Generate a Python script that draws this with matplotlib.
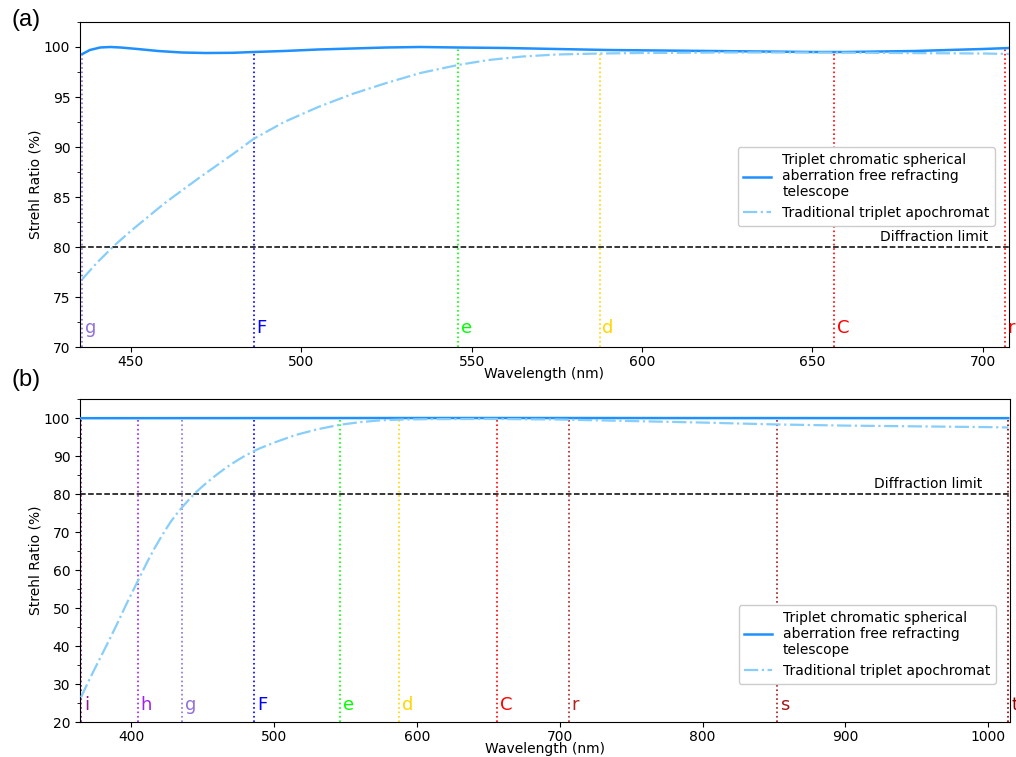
import matplotlib
matplotlib.use("Agg")
import matplotlib.pyplot as plt
from matplotlib.ticker import AutoMinorLocator

# ---------------- data ----------------
# Panel (a)
a_wl_solid = [435.8, 438, 441, 444, 447, 452, 458, 465, 472, 480, 486, 495, 505, 515, 525,
              535, 546, 560, 575, 590, 605, 620, 635, 650, 660, 670, 680, 690, 700, 708]
a_sr_solid = [99.3, 99.7, 99.95, 100.0, 99.95, 99.8, 99.6, 99.45, 99.4, 99.42, 99.5, 99.6,
              99.75, 99.85, 99.95, 100.0, 99.95, 99.9, 99.8, 99.7, 99.65, 99.6, 99.55, 99.5,
              99.5, 99.55, 99.6, 99.7, 99.8, 99.9]
a_wl_apo = [435.8, 440, 445, 450, 460, 470, 480, 486, 495, 505, 515, 525, 535, 546, 555,
            565, 575, 588, 600, 625, 650, 675, 700, 708]
a_sr_apo = [76.8, 78.4, 80.1, 81.6, 84.4, 86.9, 89.3, 90.8, 92.5, 94.0, 95.3, 96.4, 97.4,
            98.2, 98.7, 99.05, 99.25, 99.35, 99.4, 99.45, 99.45, 99.4, 99.35, 99.3]
a_lines = ["g", "F", "e", "d", "C", "r"]
a_line_wl = [435.83, 486.13, 546.07, 587.56, 656.27, 706.52]
a_line_top = [99.3, 99.5, 99.95, 99.75, 99.5, 99.85]
a_line_col = ["mediumpurple", "blue", "lime", "gold", "red", "red"]

# Panel (b)
b_wl_solid = [365, 450, 550, 650, 750, 850, 950, 1014]
b_sr_solid = [99.95, 99.97, 99.99, 100.0, 99.99, 99.98, 99.97, 99.96]
b_wl_apo = [365, 370, 375, 382, 390, 397, 405, 412, 416, 420, 424, 428, 432, 436, 440, 445,
            450, 455, 460, 465, 470, 475, 480, 486, 490, 500, 515, 530, 546, 560, 575, 590,
            610, 650, 700, 750, 800, 852, 900, 950, 1000, 1014]
b_sr_apo = [26.5, 30.5, 34.3, 39.5, 45.6, 51.2, 57.3, 62.6, 65.4, 68.0, 70.5, 72.8, 74.8,
            76.6, 78.3, 80.3, 82.0, 83.6, 85.1, 86.5, 87.8, 89.0, 90.1, 91.3, 92.0, 93.5,
            95.5, 97.0, 98.2, 98.9, 99.4, 99.6, 99.7, 99.75, 99.6, 99.2, 98.8, 98.3, 98.0,
            97.8, 97.6, 97.5]
b_lines = ["i", "h", "g", "F", "e", "d", "C", "r", "s", "t"]
b_line_wl = [365.01, 404.66, 435.83, 486.13, 546.07, 587.56, 656.27, 706.52, 852.11, 1013.98]
b_line_top = [100] * 10
b_line_col = ["#8b1a8b", "#a020f0", "mediumpurple", "blue", "lime", "gold", "red",
              "firebrick", "#a01818", "darkred"]

legend_labels = ["Triplet chromatic spherical\naberration free refracting\ntelescope",
                 "Traditional triplet apochromat"]

# ---------------- figure ----------------
fig = plt.figure(figsize=(10.16, 7.57), dpi=100)
ax1 = fig.add_axes([80 / 1016, (757 - 347) / 757, 929 / 1016, 325 / 757])
ax2 = fig.add_axes([80 / 1016, (757 - 722) / 757, 930 / 1016, 323 / 757])

FS = 10


def panel(ax, wl_s, sr_s, wl_a, sr_a, names, lwl, ltop, lcol, xlim, ylim, yticks,
          label_y, dl_x, leg_y):
    ax.set_xlim(*xlim)
    ax.set_ylim(*ylim)
    for n, x, top, c in zip(names, lwl, ltop, lcol):
        ax.vlines(x, ylim[0], top, colors=c, linestyles=":", linewidth=1.2, zorder=1)
        ax.text(x + (xlim[1] - xlim[0]) * 0.003, label_y, n, color=c, fontsize=13,
                ha="left", va="center")
    l1, = ax.plot(wl_s, sr_s, color="#1E90FF", lw=1.8, zorder=3)
    l2, = ax.plot(wl_a, sr_a, color="#87CEFA", lw=1.6, ls="-.", zorder=3)
    ax.axhline(80, color="black", ls="--", lw=1.1, zorder=2)
    ax.text(dl_x, 80 + (ylim[1] - ylim[0]) * 0.008, "Diffraction limit",
            ha="right", va="bottom", fontsize=FS)
    ax.set_yticks(yticks)
    ax.yaxis.set_minor_locator(AutoMinorLocator(2))
    ax.tick_params(labelsize=FS)
    ax.tick_params(axis="x", pad=2)
    ax.set_xlabel("Wavelength (nm)", fontsize=FS, labelpad=-1)
    ax.set_ylabel("Strehl Ratio (%)", fontsize=FS, labelpad=1)
    ax.legend([l1, l2], legend_labels, fontsize=FS, loc="upper right",
              bbox_to_anchor=(0.985, leg_y), borderaxespad=0, framealpha=1)


panel(ax1, a_wl_solid, a_sr_solid, a_wl_apo, a_sr_apo, a_lines, a_line_wl, a_line_top,
      a_line_col, (435.1, 707.7), (70, 102.5), [70, 75, 80, 85, 90, 95, 100], 71.9, 701.5,
      0.615)
panel(ax2, b_wl_solid, b_sr_solid, b_wl_apo, b_sr_apo, b_lines, b_line_wl, b_line_top,
      b_line_col, (364.3, 1015.2), (20, 105), [20, 30, 40, 50, 60, 70, 80, 90, 100], 24.5,
      995.6, 0.362)

fig.text(0.011, 0.988, "(a)", fontsize=17, family="Liberation Sans", va="top", ha="left")
fig.text(0.011, 0.513, "(b)", fontsize=17, family="Liberation Sans", va="top", ha="left")

fig.savefig("out.png", dpi=100)
